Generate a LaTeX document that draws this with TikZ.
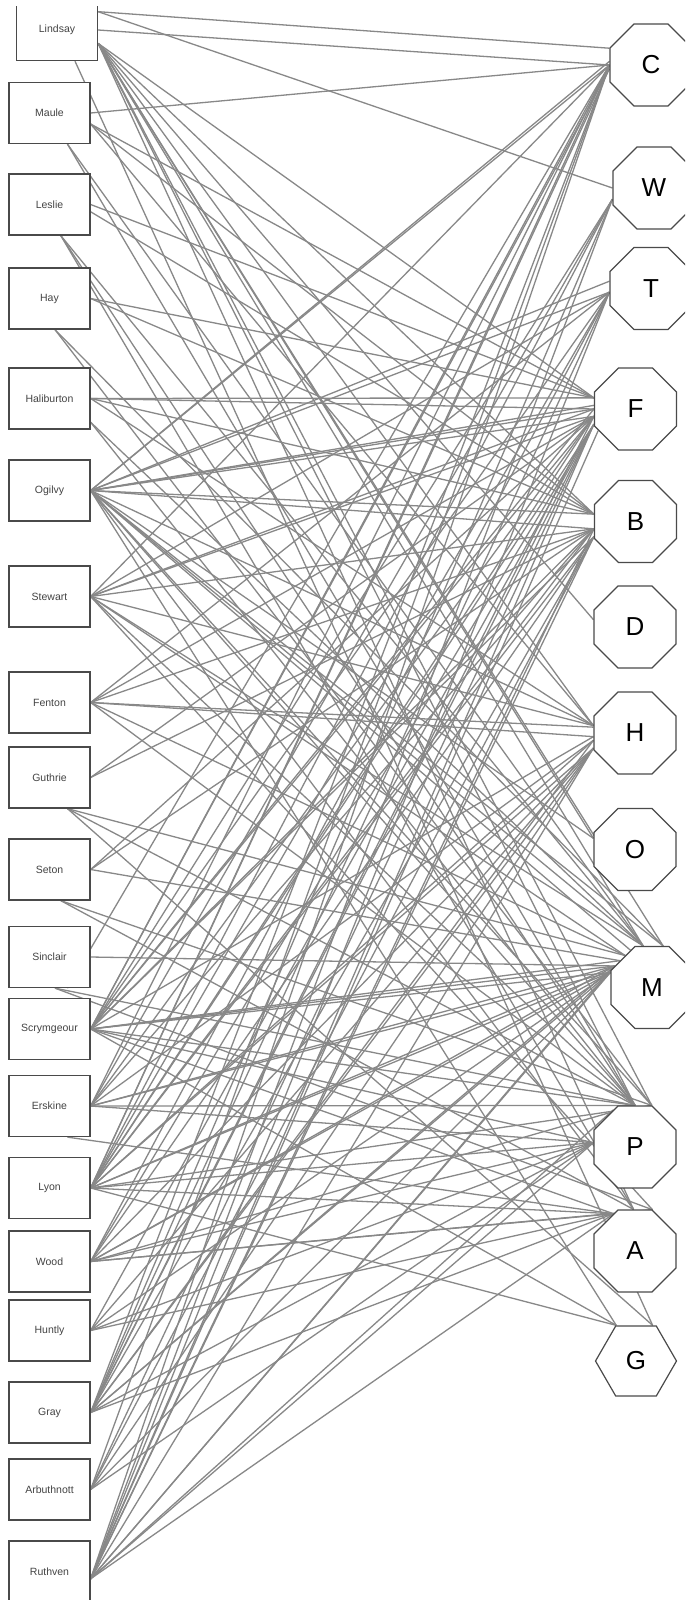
\documentclass[tikz,border=0pt]{standalone}
\usepackage{fontspec}
\setmainfont{Liberation Sans}
\usetikzlibrary{shapes.geometric,backgrounds}
\definecolor{boxgray}{HTML}{4A4A4A}
\definecolor{txtgray}{HTML}{444444}
\definecolor{linkgray}{HTML}{888888}
\begin{document}
\begin{tikzpicture}[x=1pt,y=-1pt,
  box/.style={draw=boxgray,line width=1.3pt,fill=white,minimum width=81pt,minimum height=61pt,inner sep=0pt,font=\fontsize{10.5}{12}\selectfont,text=txtgray},
  oct/.style={draw=boxgray,line width=1.2pt,fill=white,regular polygon,regular polygon sides=8,minimum size=88.7pt,inner sep=0pt,font=\fontsize{26}{30}\selectfont},
  hexa/.style={draw=boxgray,line width=1.2pt,fill=white,regular polygon,regular polygon sides=6,minimum size=81pt,inner sep=0pt,font=\fontsize{26}{30}\selectfont},
  link/.style={draw=linkgray,line width=1.3pt}]
\useasboundingbox (0,0) rectangle (685,1600);
\clip (0,7) rectangle (685,1600);
% left boxes
\node[box] (Lindsay) at (57,30) {Lindsay};
\node[box] (Maule) at (49.5,113) {Maule};
\node[box] (Leslie) at (49.5,204.5) {Leslie};
\node[box] (Hay) at (49.5,298.5) {Hay};
\node[box] (Haliburton) at (49.5,398.5) {Haliburton};
\node[box] (Ogilvy) at (49.5,490.5) {Ogilvy};
\node[box] (Stewart) at (49.5,596.5) {Stewart};
\node[box] (Fenton) at (49.5,702.5) {Fenton};
\node[box] (Guthrie) at (49.5,777.5) {Guthrie};
\node[box] (Seton) at (49.5,869.5) {Seton};
\node[box] (Sinclair) at (49.5,957) {Sinclair};
\node[box] (Scrymgeour) at (49.5,1029) {Scrymgeour};
\node[box] (Erskine) at (49.5,1106) {Erskine};
\node[box] (Lyon) at (49.5,1188) {Lyon};
\node[box] (Wood) at (49.5,1261.5) {Wood};
\node[box] (Huntly) at (49.5,1330.5) {Huntly};
\node[box] (Gray) at (49.5,1412.5) {Gray};
\node[box] (Arbuthnott) at (49.5,1489.5) {Arbuthnott};
\node[box] (Ruthven) at (49.5,1571.5) {Ruthven};
% right polygons
\node[oct] (C) at (651,65) {C};
\node[oct] (W) at (654,188) {W};
\node[oct] (T) at (651,288.5) {T};
\node[oct] (F) at (635.5,409) {F};
\node[oct] (B) at (635.5,521.5) {B};
\node[oct] (D) at (635,627) {D};
\node[oct] (H) at (635,733) {H};
\node[oct] (O) at (635,849.5) {O};
\node[oct] (M) at (652,987.5) {M};
\node[oct] (P) at (635,1147) {P};
\node[oct] (A) at (635,1251) {A};
\node[hexa] (G) at (636,1361) {G};
\begin{pgfonlayer}{background}
\fill[white] (0,0) rectangle (685,1600);
\foreach \a/\b in {
 Lindsay.24/C.158, Lindsay.east/C.west, Lindsay.24/W.west, Lindsay.-18/D.170,
 Lindsay.-18/F.165, Lindsay.-18/B.170, Lindsay.-18/H.170, Lindsay.-18/O.165,
 Lindsay.-18/M.102, Lindsay.-18/M.75, Lindsay.-18/P.90, Lindsay.-18/P.68,
 Lindsay.-18/A.92, Lindsay.-60/G.65,
 Maule.east/C.west, Maule.-15/F.165, Maule.-15/B.170, Maule.-15/H.170,
 Maule.-60/M.102, Maule.-60/P.90,
 Leslie.east/F.165, Leslie.-10/B.170, Leslie.-70/M.102, Leslie.-70/P.90, Leslie.-70/A.92,
 Hay.east/F.165, Hay.east/B.170, Hay.-80/M.75, Hay.-80/P.68,
 Haliburton.east/F.west, Haliburton.east/F.165, Haliburton.east/B.170,
 Haliburton.east/H.170, Haliburton.-30/M.102, Haliburton.-30/P.90,
 Ogilvy.east/C.west, Ogilvy.east/C.175, Ogilvy.east/T.170, Ogilvy.east/T.185,
 Ogilvy.east/F.west, Ogilvy.east/F.190, Ogilvy.east/F.175, Ogilvy.east/B.170,
 Ogilvy.east/B.190, Ogilvy.east/H.170, Ogilvy.east/O.165, Ogilvy.east/M.102,
 Ogilvy.east/M.75, Ogilvy.east/M.120, Ogilvy.east/P.90, Ogilvy.east/P.68,
 Ogilvy.east/A.92, Ogilvy.east/G.119,
 Stewart.east/C.west, Stewart.east/T.185, Stewart.east/F.west, Stewart.east/F.190,
 Stewart.east/B.190, Stewart.east/H.170, Stewart.east/M.102, Stewart.east/M.130,
 Stewart.east/P.90, Stewart.east/A.67,
 Fenton.east/T.185, Fenton.east/F.190, Fenton.east/H.172, Fenton.east/H.185,
 Fenton.east/M.130, Fenton.east/P.90, Fenton.east/B.190,
 Guthrie.east/F.190, Guthrie.east/B.190, Guthrie.-60/M.130, Guthrie.-60/P.90, Guthrie.-60/G.65,
 Seton.east/F.190, Seton.east/B.190, Seton.east/M.140, Seton.-70/P.68, Seton.-70/A.92,
 Sinclair.-60/C.west, Sinclair.east/M.150, Sinclair.-80/P.90, Sinclair.-80/A.67,
 Scrymgeour.east/C.west, Scrymgeour.east/C.185, Scrymgeour.east/W.195,
 Scrymgeour.east/T.185, Scrymgeour.east/F.190, Scrymgeour.east/F.west,
 Scrymgeour.east/B.190, Scrymgeour.east/B.200, Scrymgeour.east/H.185,
 Scrymgeour.east/M.150, Scrymgeour.east/M.140, Scrymgeour.east/M.160,
 Scrymgeour.east/P.174, Scrymgeour.east/P.90, Scrymgeour.east/A.120, Scrymgeour.east/G.119,
 Erskine.east/C.west, Erskine.east/W.195, Erskine.east/F.190, Erskine.east/B.190,
 Erskine.east/H.190, Erskine.east/M.150, Erskine.east/M.160, Erskine.east/P.90,
 Erskine.east/P.174, Erskine.-60/A.120,
 Lyon.east/C.west, Lyon.east/C.185, Lyon.east/W.195, Lyon.east/T.185,
 Lyon.east/F.190, Lyon.east/F.200, Lyon.east/B.190, Lyon.east/B.200,
 Lyon.east/H.190, Lyon.east/H.200, Lyon.east/M.150, Lyon.east/M.160,
 Lyon.east/P.174, Lyon.east/P.68, Lyon.east/A.120, Lyon.east/G.119,
 Wood.east/T.185, Wood.east/F.200, Wood.east/B.200, Wood.east/H.200,
 Wood.east/M.160, Wood.east/M.150, Wood.east/P.174, Wood.east/P.90,
 Wood.east/A.120, Wood.east/A.67,
 Huntly.east/F.200, Huntly.east/H.200, Huntly.east/M.160, Huntly.east/P.174, Huntly.east/A.120,
 Gray.east/C.west, Gray.east/W.195, Gray.east/T.185, Gray.east/F.200,
 Gray.east/F.190, Gray.east/B.200, Gray.east/H.200, Gray.east/H.190,
 Gray.east/M.160, Gray.east/M.150, Gray.east/P.174, Gray.east/A.120,
 Arbuthnott.east/C.west, Arbuthnott.east/F.200, Arbuthnott.east/B.200,
 Arbuthnott.east/H.200, Arbuthnott.east/M.160, Arbuthnott.east/P.174,
 Ruthven.-10/C.west, Ruthven.-10/W.195, Ruthven.-10/T.185, Ruthven.-10/F.200,
 Ruthven.-10/F.210, Ruthven.-10/B.200, Ruthven.-10/B.190, Ruthven.-10/H.200,
 Ruthven.-10/M.160, Ruthven.-10/M.150, Ruthven.-10/P.174, Ruthven.-10/P.120,
 Ruthven.-10/A.120}
 \draw[link] (\a) -- (\b);
\end{pgfonlayer}
\end{tikzpicture}
\end{document}
